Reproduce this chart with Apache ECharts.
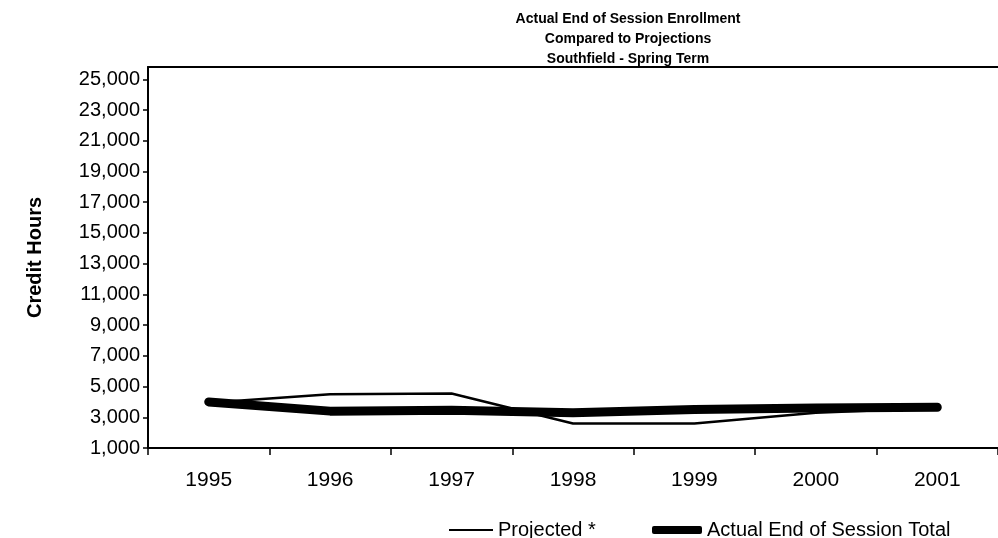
<!DOCTYPE html>
<html>
<head>
<meta charset="utf-8">
<script src="https://cdn.jsdelivr.net/npm/echarts@6/dist/echarts.min.js"></script>
<style>
  html, body { margin: 0; padding: 0; background: #fff; }
  #chart { width: 998px; height: 538px; }
</style>
</head>
<body>
<div id="chart"></div>
<script>
// 数据
var years = ['1995', '1996', '1997', '1998', '1999', '2000', '2001'];
var projected = [3950, 4500, 4550, 2600, 2600, 3300, 3600];
var actualTotal = [4000, 3400, 3450, 3300, 3500, 3600, 3650];
var seriesNames = ['Projected *', 'Actual End of Session Total'];

var font = '"Liberation Sans", Arial, sans-serif';
var chart = echarts.init(document.getElementById('chart'));

chart.setOption({
  animation: false,
  backgroundColor: '#fff',
  title: {
    text: 'Actual End of Session Enrollment\nCompared to Projections\nSouthfield - Spring Term',
    left: 623,
    top: 4,
    textAlign: 'center',
    textStyle: { fontFamily: font, fontSize: 14, fontWeight: 'bold', color: '#000', lineHeight: 20 }
  },
  // 两个图例，分别控制线宽
  legend: [{
    data: [seriesNames[0]],
    left: 444,
    top: 515,
    icon: 'rect',
    itemWidth: 44,
    itemHeight: 2,
    textStyle: { fontFamily: font, fontSize: 20, color: '#000' }
  }, {
    data: [seriesNames[1]],
    left: 647,
    top: 515,
    icon: 'roundRect',
    itemWidth: 50,
    itemHeight: 8,
    textStyle: { fontFamily: font, fontSize: 20, color: '#000' }
  }],
  grid: { left: 148, right: 0, top: 67, bottom: 90 },
  xAxis: [{
    type: 'category',
    data: years,
    boundaryGap: true,
    axisLine: { lineStyle: { color: '#000', width: 2 } },
    axisTick: { show: true, length: 7, lineStyle: { color: '#000', width: 1.5 } },
    axisLabel: { fontFamily: font, fontSize: 21, color: '#000', margin: 22 },
    splitLine: { show: false }
  }, {
    // 顶部边框线
    type: 'category',
    position: 'top',
    data: years,
    axisLine: { lineStyle: { color: '#000', width: 2 } },
    axisTick: { show: false },
    axisLabel: { show: false }
  }],
  yAxis: {
    type: 'value',
    min: 1000,
    max: 25800,
    interval: 2000,
    name: 'Credit Hours',
    nameLocation: 'middle',
    nameRotate: 90,
    nameGap: 103,
    nameTextStyle: { fontFamily: font, fontSize: 20, fontWeight: 'bold', color: '#000' },
    axisLine: { show: true, lineStyle: { color: '#000', width: 2 } },
    axisTick: { show: true, length: 5, lineStyle: { color: '#000', width: 1.5 } },
    axisLabel: {
      fontFamily: font, fontSize: 20, color: '#000', margin: 8,
      showMaxLabel: false,
      formatter: function (v) { return v.toLocaleString('en-US'); }
    },
    splitLine: { show: false }
  },
  series: [{
    name: seriesNames[0],
    type: 'line',
    data: projected,
    symbol: 'none',
    itemStyle: { color: '#000' },
    lineStyle: { color: '#000', width: 2.5 },
    z: 3
  }, {
    name: seriesNames[1],
    type: 'line',
    data: actualTotal,
    symbol: 'none',
    itemStyle: { color: '#000' },
    lineStyle: { color: '#000', width: 9, cap: 'round', join: 'round' },
    z: 2
  }]
});
</script>
</body>
</html>
